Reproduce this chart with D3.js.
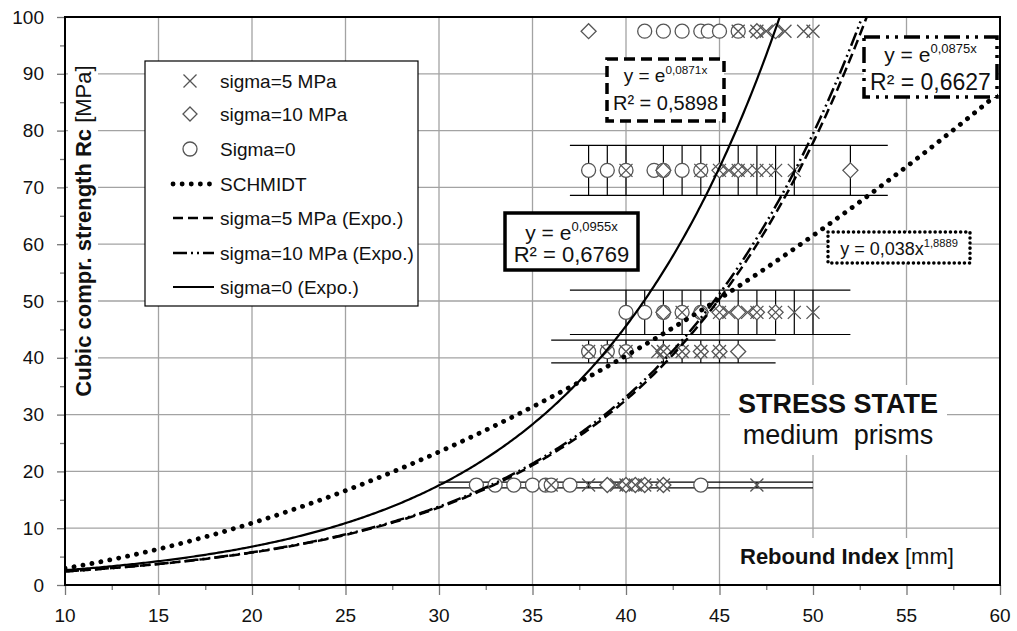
<!DOCTYPE html>
<html><head><meta charset="utf-8">
<script src="https://cdn.jsdelivr.net/npm/d3@7/dist/d3.min.js"></script>
<style>body{margin:0;background:#fff} svg{display:block;font-family:"Liberation Sans",Arial,sans-serif}</style>
</head><body><svg id="c" width="1017" height="631"></svg>
<script>
// ---------- data ----------
const xTicks = [10,15,20,25,30,35,40,45,50,55,60];
const yTicks = [0,10,20,30,40,50,60,70,80,90,100];
const rowY    = [97.5, 73, 48, 41.1, 17.6];
const rowErr  = [0, 4.4, 3.9, 2.0, 0.5];
const rowXmin = [null, 37, 37, 36, 30];
const rowXmax = [null, 54, 52, 48, 50];
const sigma5X  = [[46,47,47.5,48.5,49.5,50],[40,44,45,45.5,46,46.5,47,47.5,48,49],[43,45,45.5,46.5,47,48,49,50],[38,39,40,41.7,42,43,44,45],[36,38,39.5,40,40.5,41,42,47]];
const sigma10X = [[38,47,48],[42,45,46,52],[42,44,45,46,47,48],[42,43,44,45,46],[39,40,40.5,41,42]];
const sigma0X  = [[41,42,43,44,44.4,45,46],[38,39,40,41.5,42,43,44],[40,41,42,43,44],[38,39,40],[32,33,34,35,35.7,36,37,44]];
const schmidtA = 0.038, schmidtB = 1.8889;
const expoK5 = 0.0871, expoK10 = 0.0875, expoK0 = 0.0955;
const legendLabels = ["sigma=5 MPa","sigma=10 MPa","Sigma=0","SCHMIDT","sigma=5 MPa (Expo.)","sigma=10 MPa (Expo.)","sigma=0 (Expo.)"];

// ---------- setup ----------
const svg = d3.select("#c");
const L=65,R=1000,T=17,B=585;
const x = d3.scaleLinear([10,60],[L,R]);
const y = d3.scaleLinear([0,100],[B,T]);
const ink="#111";

svg.append("defs").append("clipPath").attr("id","clip").append("rect")
  .attr("x",L).attr("y",T).attr("width",R-L).attr("height",B-T);

// gridlines
const grid = svg.append("g").attr("stroke","#a3a3a3").attr("stroke-width",1.3);
grid.selectAll(".gx").data(xTicks.slice(1,-1)).join("line")
  .attr("x1",d=>x(d)).attr("x2",d=>x(d)).attr("y1",T).attr("y2",B);
grid.selectAll(".gy").data(yTicks.slice(1,-1)).join("line")
  .attr("y1",d=>y(d)).attr("y2",d=>y(d)).attr("x1",L).attr("x2",R);

// axes
const xAx = svg.append("g").attr("transform",`translate(0,${B})`)
  .call(d3.axisBottom(x).tickValues(d3.range(10,60.1,2.5)).tickSize(5).tickFormat(""));
xAx.selectAll(".tick line").filter(d=>d%5===0).attr("y2",10);
xAx.selectAll("line").attr("stroke","#777").attr("stroke-width",1.3);
xAx.select(".domain").remove();
svg.append("g").selectAll("text").data(xTicks).join("text")
  .attr("x",d=>x(d)).attr("y",622).attr("text-anchor","middle")
  .attr("font-size",19).attr("fill",ink).text(d=>d);

const yAx = svg.append("g").attr("transform",`translate(${L},0)`)
  .call(d3.axisLeft(y).tickValues(d3.range(0,100.1,5)).tickSize(5).tickFormat(""));
yAx.selectAll(".tick line").filter(d=>d%10===0).attr("x2",-8);
yAx.selectAll("line").attr("stroke","#777").attr("stroke-width",1.3);
yAx.select(".domain").remove();
svg.append("g").selectAll("text").data(yTicks).join("text")
  .attr("x",44).attr("y",d=>y(d)+6.5).attr("text-anchor","end")
  .attr("font-size",19).attr("fill",ink).text(d=>d);

// white backgrounds behind in-plot labels
svg.append("rect").attr("x",68).attr("y",55).attr("width",30).attr("height",352).attr("fill","#fff");
svg.append("rect").attr("x",730).attr("y",385).attr("width",217).attr("height",70).attr("fill","#fff");
svg.append("rect").attr("x",735).attr("y",538).attr("width",236).attr("height",46).attr("fill","#fff");

// y title
const yt = svg.append("text").attr("transform","translate(91,231) rotate(-90)")
  .attr("text-anchor","middle").attr("font-size",22).attr("fill",ink);
yt.append("tspan").attr("font-weight","bold").text("Cubic compr. strength Rc ");
yt.append("tspan").text("[MPa]");

// x title
const xt = svg.append("text").attr("x",740).attr("y",564).attr("font-size",22).attr("fill",ink);
xt.append("tspan").attr("font-weight","bold").text("Rebound Index ");
xt.append("tspan").text("[mm]");

// stress state
svg.append("text").attr("x",838).attr("y",413).attr("text-anchor","middle")
  .attr("font-size",27).attr("font-weight","bold").attr("fill",ink).text("STRESS STATE");
svg.append("text").attr("x",838).attr("y",444).attr("text-anchor","middle")
  .attr("font-size",27).attr("fill",ink).text("medium  prisms").style("white-space","pre");

// ---------- error bars ----------
const eb = svg.append("g").attr("stroke","#000").attr("stroke-width",1.2).attr("fill","none");
rowY.forEach((ry,i)=>{
  if(!rowErr[i]) return;
  [ry-rowErr[i], ry+rowErr[i]].forEach(v=>{
    eb.append("line").attr("x1",x(rowXmin[i])).attr("x2",x(rowXmax[i])).attr("y1",y(v)).attr("y2",y(v));
  });
  const xs = Array.from(new Set([...sigma5X[i],...sigma10X[i],...sigma0X[i]])).filter(Number.isInteger);
  eb.selectAll(null).data(xs).join("line")
    .attr("x1",d=>x(d)).attr("x2",d=>x(d)).attr("y1",y(ry-rowErr[i])).attr("y2",y(ry+rowErr[i]));
});

// ---------- markers ----------
const mk = svg.append("g").attr("clip-path","url(#clip)");
const pts = arr => arr.flatMap((xs,i)=>xs.map(v=>[v,rowY[i]]));
const mcol="#555";
mk.append("g").selectAll("circle").data(pts(sigma0X)).join("circle")
  .attr("cx",d=>x(d[0])).attr("cy",d=>y(d[1])).attr("r",7)
  .attr("fill","#fff").attr("stroke",mcol).attr("stroke-width",1.3);
mk.append("g").selectAll("path").data(pts(sigma10X)).join("path")
  .attr("d", "M0,-7.5L7.5,0L0,7.5L-7.5,0Z")
  .attr("transform",d=>`translate(${x(d[0])},${y(d[1])})`)
  .attr("fill","#fff").attr("stroke",mcol).attr("stroke-width",1.3);
mk.append("g").selectAll("path").data(pts(sigma5X)).join("path")
  .attr("d","M-6.5,-6.5L6.5,6.5M-6.5,6.5L6.5,-6.5")
  .attr("transform",d=>`translate(${x(d[0])},${y(d[1])})`)
  .attr("fill","none").attr("stroke",mcol).attr("stroke-width",1.3);

// ---------- trend curves ----------
const xs = d3.range(10,60.001,0.1);
const line = d3.line().x(d=>x(d[0])).y(d=>y(d[1]));
const cg = svg.append("g").attr("clip-path","url(#clip)").attr("fill","none").attr("stroke","#000");
const curves = [
  {f:v=>schmidtA*Math.pow(v,schmidtB), w:4.8, dash:"0.1,9", cap:"round"},
  {f:v=>Math.exp(expoK5*v), w:2.5, dash:"10,5", cap:"butt"},
  {f:v=>Math.exp(expoK10*v), w:2.5, dash:"14,4,2,4,2,4", cap:"butt"},
  {f:v=>Math.exp(expoK0*v), w:2.2, dash:null, cap:"butt"}
];
curves.forEach(c=>{
  cg.append("path").datum(xs.map(v=>[v,Math.min(c.f(v),130)]))
    .attr("d",line).attr("stroke-width",c.w).attr("stroke-dasharray",c.dash)
    .attr("stroke-linecap",c.cap);
});

// plot border
svg.append("rect").attr("x",L).attr("y",T).attr("width",R-L).attr("height",B-T)
  .attr("fill","none").attr("stroke","#000").attr("stroke-width",2);

// ---------- legend ----------
const lg = svg.append("g");
lg.append("rect").attr("x",145).attr("y",61).attr("width",273).attr("height",245)
  .attr("fill","#fff").attr("stroke","#000").attr("stroke-width",1.2);
const rowsY = [81,114,149,184,218,253,287];
legendLabels.forEach((lab,i)=>{
  lg.append("text").attr("x",220).attr("y",rowsY[i]+6.5).attr("font-size",19).attr("fill",ink).text(lab);
});
lg.append("path").attr("d",`M183.5,${rowsY[0]-6.5}l13,13M183.5,${rowsY[0]+6.5}l13,-13`).attr("stroke",mcol).attr("stroke-width",1.3);
lg.append("path").attr("d",`M190,${rowsY[1]-7}l7,7l-7,7l-7,-7Z`).attr("fill","#fff").attr("stroke",mcol).attr("stroke-width",1.3);
lg.append("circle").attr("cx",190).attr("cy",rowsY[2]).attr("r",7).attr("fill","#fff").attr("stroke",mcol).attr("stroke-width",1.3);
curves.forEach((c,i)=>{
  lg.append("line").attr("x1",173).attr("x2",214).attr("y1",rowsY[3+i]).attr("y2",rowsY[3+i])
    .attr("stroke","#000").attr("stroke-width",c.w).attr("stroke-dasharray",c.dash).attr("stroke-linecap",c.cap);
});

// ---------- equation boxes ----------
function eqBox(bx,by,bw,bh,dash,sw,lines){
  const g = svg.append("g");
  g.append("rect").attr("x",bx).attr("y",by).attr("width",bw).attr("height",bh)
    .attr("fill","#fff").attr("stroke","#000").attr("stroke-width",sw)
    .attr("stroke-dasharray",dash).attr("stroke-linecap",dash&&dash.startsWith("0.1")?"round":"butt");
  lines.forEach(l=>{
    const t = g.append("text").attr("x",bx+bw/2).attr("y",l.y).attr("text-anchor","middle")
      .attr("font-size",l.fs).attr("fill",ink);
    t.append("tspan").text(l.main);
    if(l.sup) t.append("tspan").attr("dy",-l.fs*0.42).attr("font-size",l.fs*0.62).text(l.sup);
  });
}
eqBox(505,213,133,57,null,3.5,[
  {y:240,fs:21,main:"y = e",sup:"0,0955x"},
  {y:262,fs:22,main:"R² = 0,6769"}]);
eqBox(607,59,117,62,"11,6",3.5,[
  {y:82,fs:19,main:"y = e",sup:"0,0871x"},
  {y:110,fs:20,main:"R² = 0,5898"}]);
eqBox(864,37,133,60,"16,6,3,6,3,6",3.5,[
  {y:62,fs:21,main:"y = e",sup:"0,0875x"},
  {y:90,fs:23,main:"R² = 0,6627"}]);
eqBox(828,232,142,31,"0.1,5",3.5,[
  {y:255,fs:18,main:"y = 0,038x",sup:"1,8889"}]);
</script></body></html>
